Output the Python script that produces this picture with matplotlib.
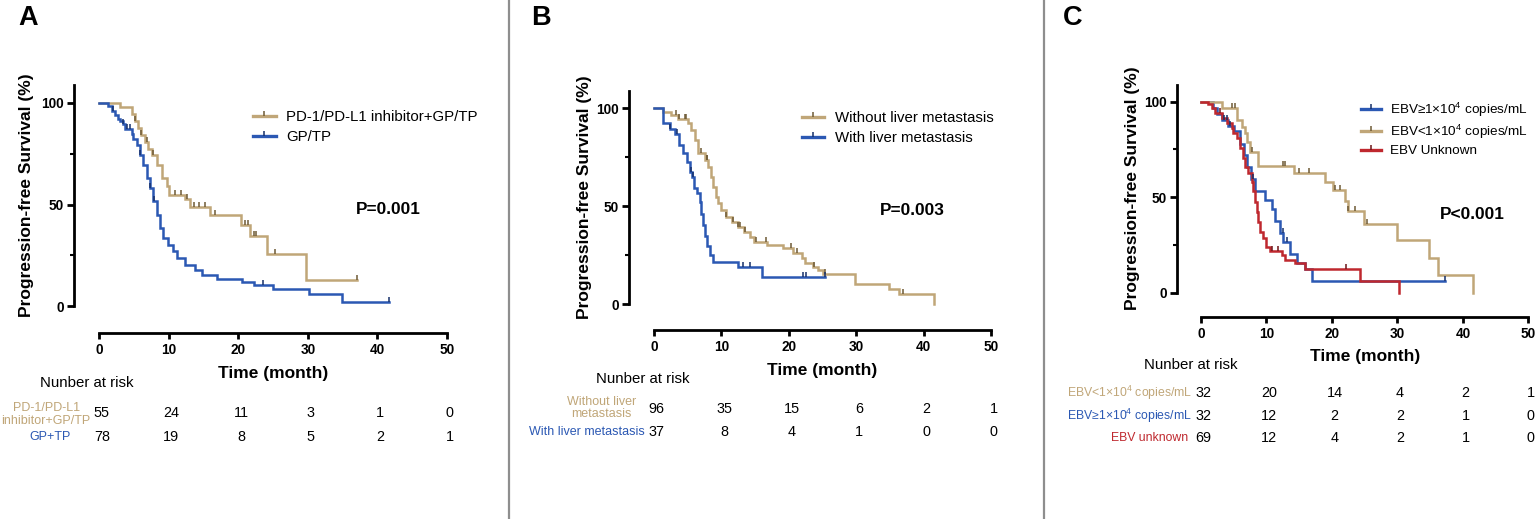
"""
Kaplan-Meier PFS curves, three panels (treatment, liver metastasis, EBV DNA)
with number-at-risk tables underneath.
"""
import matplotlib
matplotlib.use("Agg")
import matplotlib.pyplot as plt
import numpy as np
from matplotlib.lines import Line2D
from matplotlib.transforms import blended_transform_factory

plt.rcParams["font.family"] = ["Liberation Sans", "DejaVu Sans"]
plt.rcParams["mathtext.fontset"] = "custom"
plt.rcParams["mathtext.rm"] = "Liberation Sans"
plt.rcParams["mathtext.it"] = "Liberation Sans:italic"
plt.rcParams["mathtext.bf"] = "Liberation Sans:bold"

# ---- data (step curves: time in months, PFS in %) ----
risk_times = [0, 10, 20, 30, 40, 50]

# Panel A
a_pd_t = [0, 3.0, 4.8, 5.2, 5.65, 6.1, 6.6, 7.1, 7.6, 8.3, 9.0, 9.7, 10.0, 12.4, 13.1,
          15.9, 20.4, 21.7, 24.2, 29.7, 37.0]
a_pd_s = [100, 97.8, 94.5, 91, 87.5, 84, 81, 77.5, 74.5, 69.5, 63, 59, 54.5, 52.7, 49,
          45, 40, 34.5, 25.5, 12.8, 12.8]
a_pd_cens = [5.2, 6.1, 6.85, 7.8, 10.9, 11.8, 12.7, 13.6, 14.4, 15.2, 16.7, 21.0, 21.4,
             22.3, 22.6, 25.3, 37.0]
a_gp_t = [0, 1.34, 1.8, 2.3, 2.7, 3.0, 3.4, 3.74, 4.69, 4.93, 5.41, 5.89, 6.37, 6.85, 7.33,
          7.8, 8.29, 8.77, 9.24, 9.96, 10.7, 11.16, 12.4, 13.8, 14.75, 16.9, 20.5, 22.2,
          25.05, 30.2, 34.9, 41.6]
a_gp_s = [100, 98.7, 96.2, 94, 92.3, 91, 89.7, 87.2, 84.5, 82.5, 79.5, 74.5, 69.5, 63, 58,
          51.5, 45, 38.5, 33.5, 30, 27, 23.5, 20, 17.5, 15.3, 13.5, 12, 10.3,
          8.2, 5.9, 2.0, 2.0]
a_gp_cens = [2.06, 3.5, 3.97, 4.45, 5.9, 7.33, 7.95, 23.6, 41.6]
a_risk_pd = [55, 24, 11, 3, 1, 0]
a_risk_gp = [78, 19, 8, 5, 2, 1]

# Panel B
b_wo_t = [0, 1.34, 2.57, 3.56, 5.05, 5.54, 6.03, 6.5, 7.5, 8.0, 8.5, 8.75, 9.2, 9.5, 10.0,
          10.7, 11.5, 12.5, 13.4, 14.2, 14.9, 16.7, 19.1, 20.6, 21.9, 22.4, 23.6, 24.3,
          25.1, 29.8, 34.9, 36.3, 41.5]
b_wo_s = [100, 98.3, 96.6, 94.4, 92.4, 89, 83.8, 77, 73.6, 70.2, 65.1, 60, 55, 51.5, 48.1,
          44.7, 42.2, 39.6, 37.1, 34.5, 32, 30.3, 28.6, 26.1, 23.5, 21, 19.2, 17.5,
          15.5, 10.4, 7.6, 5.3, 0]
b_wo_cens = [3.3, 3.66, 4.55, 4.7, 7.0, 7.8, 7.9, 10.7, 11.7, 12.5, 12.7, 13.5, 15.2, 16.6,
             20.3, 21.2, 23.7, 25.3, 37.0]
b_w_t = [0, 1.34, 2.32, 3.06, 3.66, 4.3, 4.94, 5.4, 5.6, 5.9, 6.4, 6.77, 6.9, 7.27, 7.6,
         7.9, 8.25, 8.75, 12.4, 16.0, 25.3]
b_w_s = [100, 92.3, 89.6, 86.9, 81.3, 77, 72.7, 67.6, 64.9, 59.5, 56.8, 52.3, 45.9, 40.5,
         35.1, 29.7, 25.1, 21.6, 18.9, 14.1, 14.1]
b_w_cens = [2.32, 3.46, 5.54, 5.79, 13.2, 14.2, 22.1, 22.6, 25.3]
b_risk_wo = [96, 35, 15, 6, 2, 1]
b_risk_w = [37, 8, 4, 1, 0, 0]

# Panel C
c_ge_t = [0, 1.9, 2.4, 3.2, 4.2, 5.0, 6.0, 6.6, 7.1, 7.6, 8.2, 9.8, 10.9, 11.3, 12.1, 12.6,
          13.6, 14.6, 15.9, 17.0, 37.2]
c_ge_s = [100, 96.9, 93.8, 90.6, 87.5, 84.4, 78.1, 71.9, 65.6, 59.4, 53.1, 48.4, 43.8, 37.5,
          31.3, 26.6, 20.3, 15.6, 12.5, 6.3, 6.3]
c_ge_cens = [3.51, 4.02, 4.43, 7.89, 12.57, 13.08, 37.2]
c_lt_t = [0, 3.16, 5.45, 6.2, 6.7, 6.97, 7.48, 8.75, 14.25, 18.9, 20.2, 22.0, 22.5, 24.9,
          29.9, 34.9, 36.2, 41.5]
c_lt_s = [100, 96.9, 90.4, 86.9, 83.4, 79.1, 73.8, 66.5, 62.5, 58.1, 53.8, 48.0, 42.8, 35.8,
          27.6, 18.0, 9.1, 0]
c_lt_cens = [4.78, 5.19, 7.84, 12.57, 12.9, 15.0, 16.5, 20.5, 21.2, 22.5, 23.5, 25.3]
c_unk_t = [0, 1.1, 1.63, 2.14, 3.15, 3.92, 4.68, 4.94, 5.45, 5.95, 6.46, 6.72, 7.23, 7.74,
           7.99, 8.25, 8.5, 8.75, 9.0, 9.5, 10.0, 10.5, 12.3, 12.8, 14.3, 15.9, 24.3, 30.2]
c_unk_s = [100, 98.6, 96.5, 93.9, 91.4, 88.7, 86.1, 83.4, 80.8, 75.6, 70.3, 66, 62.5, 58.1,
           53, 47.7, 42.4, 37.2, 32, 28.5, 24.1, 21.6, 19.8, 17.2, 15.4, 12.5, 5.9, 0]
c_unk_cens = [2.9, 10.8, 11.7, 22.2]
c_risk_lt = [32, 20, 14, 4, 2, 1]
c_risk_ge = [32, 12, 2, 2, 1, 0]
c_risk_unk = [69, 12, 4, 2, 1, 0]

TAN, TAN_D = "#C0A678", "#6E5A35"
BLUE, BLUE_D = "#2B58B3", "#16306A"
RED, RED_D = "#BF282E", "#6E1518"

W, H = 1535, 519
YMAX = 109
fig = plt.figure(figsize=(W / 100, H / 100), dpi=100)


def fy(py):
    return 1 - py / H


def make_axes(x0, x50, y0, y100, left_off, bottom_off):
    ppu = (y0 - y100) / 100
    ytop = y0 - YMAX * ppu
    ax = fig.add_axes([x0 / W, 1 - y0 / H, (x50 - x0) / W, (y0 - ytop) / H])
    ax.set_xlim(0, 50)
    ax.set_ylim(0, YMAX)
    ax.spines[["top", "right"]].set_visible(False)
    ax.spines["left"].set_position(("outward", left_off * 0.72))
    ax.spines["bottom"].set_position(("outward", bottom_off * 0.72))
    for s in ("left", "bottom"):
        ax.spines[s].set_linewidth(2.0)
    ax.set_xticks(risk_times)
    ax.set_yticks([0, 50, 100])
    ax.set_yticks([25, 75], minor=True)
    ax.tick_params(axis="x", which="major", length=4.5, width=2.0, pad=3, labelsize=9.8)
    ax.tick_params(axis="y", which="major", length=5, width=2.0, pad=2.5, labelsize=9.8)
    ax.tick_params(axis="y", which="minor", length=3, width=1.5)
    for lbl in ax.get_xticklabels() + ax.get_yticklabels():
        lbl.set_fontweight("bold")
    ax.set_xlabel("Time (month)", fontsize=12.5, fontweight="bold")
    ax.set_ylabel("Progression-free Survival (%)", fontsize=12.5, fontweight="bold")
    ax.patch.set_alpha(0)
    return ax, ytop


def km(ax, t, s, cens, color, dark):
    t = np.asarray(t)
    s = np.asarray(s)
    ax.plot(t, s, drawstyle="steps-post", color=color, lw=1.8, clip_on=False,
            solid_joinstyle="miter", zorder=3)
    idx = np.searchsorted(t, cens, side="right") - 1
    ax.plot(cens, s[idx], ls="none", marker=2, ms=3.4, mew=1.1, color=dark,
            clip_on=False, zorder=4)
    return Line2D([], [], color=color, lw=2.4, marker=2, ms=3.4, mew=1.1, mec=dark)


def place_labels(ax, y0, ytop, x0, x50, xlab_py, ylab_px):
    ax.xaxis.set_label_coords(0.5, (y0 - xlab_py) / (y0 - ytop))
    ax.xaxis.label.set_va("center")
    ax.yaxis.set_label_coords((ylab_px - x0) / (x50 - x0), 0.5)
    ax.yaxis.label.set_va("center")


def legend(ax, handles, labels, x0, x50, y0, ytop, px, py, fs, spacing):
    ax.legend(handles, labels, loc="upper left",
              bbox_to_anchor=((px - x0) / (x50 - x0), (y0 - py) / (y0 - ytop)),
              frameon=False, fontsize=fs, handlelength=1.5, handletextpad=0.7,
              labelspacing=spacing, borderaxespad=0, borderpad=0, numpoints=1)


def risk_row(ax, counts, py):
    trans = blended_transform_factory(ax.transData, fig.transFigure)
    for tm, n in zip(risk_times, counts):
        ax.text(tm + 0.4, fy(py), str(n), transform=trans, ha="center", va="center",
                fontsize=10.4)


# ---------------- Panel A ----------------
ax, yt = make_axes(99, 447, 306, 103, 25, 27)
hA1 = km(ax, a_pd_t, a_pd_s, a_pd_cens, TAN, TAN_D)
hA2 = km(ax, a_gp_t, a_gp_s, a_gp_cens, BLUE, BLUE_D)
place_labels(ax, 306, yt, 99, 447, 373, 27)
legend(ax, [hA1, hA2], ["PD-1/PD-L1 inhibitor+GP/TP", "GP/TP"], 99, 447, 306, yt,
       253, 110, 10.8, 0.4)
ax.text(41.5, 47.3, "P=0.001", ha="center", va="center", fontsize=12.4, fontweight="bold")
tr = blended_transform_factory(ax.transData, fig.transFigure)
ax.text(-1.7, fy(382.7), "Nunber at risk", transform=tr, ha="center", va="center",
        fontsize=10.8)
ax.text(-7.6, fy(414.5), "PD-1/PD-L1\ninhibitor+GP/TP", transform=tr, ha="center",
        va="center", fontsize=9.0, color=TAN, linespacing=1.1)
ax.text(-7.0, fy(437.3), "GP+TP", transform=tr, ha="center", va="center",
        fontsize=9.0, color=BLUE)
risk_row(ax, a_risk_pd, 413.3)
risk_row(ax, a_risk_gp, 437.3)

# ---------------- Panel B ----------------
ax, yt = make_axes(654, 991, 304.3, 108.3, 25, 25.7)
hB1 = km(ax, b_wo_t, b_wo_s, b_wo_cens, TAN, TAN_D)
hB2 = km(ax, b_w_t, b_w_s, b_w_cens, BLUE, BLUE_D)
place_labels(ax, 304.3, yt, 654, 991, 370, 584)
legend(ax, [hB1, hB2], ["Without liver metastasis", "With liver metastasis"],
       654, 991, 304.3, yt, 801.7, 111.5, 10.8, 0.4)
ax.text(38.3, 47.8, "P=0.003", ha="center", va="center", fontsize=12.4, fontweight="bold")
tr = blended_transform_factory(ax.transData, fig.transFigure)
ax.text(-1.74, fy(379), "Nunber at risk", transform=tr, ha="center", va="center",
        fontsize=10.8)
ax.text(-7.76, fy(408), "Without liver\nmetastasis", transform=tr, ha="center",
        va="center", fontsize=9.0, color=TAN, linespacing=1.1)
ax.text(-1.34, fy(431.7), "With liver metastasis", transform=tr, ha="right",
        va="center", fontsize=9.0, color=BLUE)
risk_row(ax, b_risk_wo, 409.3)
risk_row(ax, b_risk_w, 431.7)

# ---------------- Panel C ----------------
ax, yt = make_axes(1201, 1528.3, 292.7, 101.7, 23.7, 24)
hC1 = km(ax, c_ge_t, c_ge_s, c_ge_cens, BLUE, BLUE_D)
hC2 = km(ax, c_lt_t, c_lt_s, c_lt_cens, TAN, TAN_D)
hC3 = km(ax, c_unk_t, c_unk_s, c_unk_cens, RED, RED_D)
place_labels(ax, 292.7, yt, 1201, 1528.3, 356, 1132.7)
legend(ax, [hC1, hC2, hC3],
       ["EBV≥1×10$^{4}$ copies/mL", "EBV<1×10$^{4}$ copies/mL", "EBV Unknown"],
       1201, 1528.3, 292.7, yt, 1360.7, 100.5, 9.7, 0.3)
ax.text(41.4, 41, "P<0.001", ha="center", va="center", fontsize=12.4, fontweight="bold")
tr = blended_transform_factory(ax.transData, fig.transFigure)
ax.text(-1.57, fy(365), "Nunber at risk", transform=tr, ha="center", va="center",
        fontsize=10.8)
ax.text(-1.37, fy(392.7), "EBV<1×10$^{4}$ copies/mL", transform=tr, ha="right",
        va="center", fontsize=8.8, color=TAN)
ax.text(-1.37, fy(416), "EBV≥1×10$^{4}$ copies/mL", transform=tr, ha="right",
        va="center", fontsize=8.8, color=BLUE)
ax.text(-1.9, fy(438.3), "EBV unknown", transform=tr, ha="right",
        va="center", fontsize=8.8, color=RED)
risk_row(ax, c_risk_lt, 392.7)
risk_row(ax, c_risk_ge, 416)
risk_row(ax, c_risk_unk, 438.3)

# panel separators and letters
for xs in (509, 1044):
    fig.add_artist(Line2D([xs / W, xs / W], [0, 1], transform=fig.transFigure,
                          color="#8E8E8E", lw=1.6))
for xl, letter in ((18, "A"), (531, "B"), (1063, "C")):
    fig.text(xl / W, fy(5), letter, ha="left", va="top", fontsize=19.5, fontweight="bold")

fig.savefig("out.png", dpi=100)
